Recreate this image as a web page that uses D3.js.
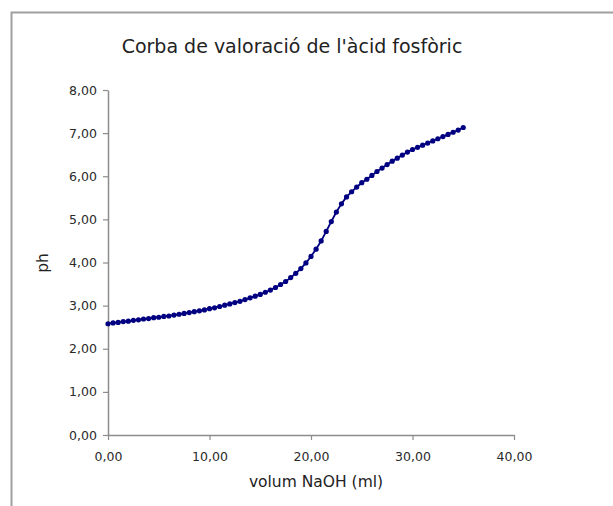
<!DOCTYPE html>
<html><head><meta charset="utf-8">
<script src="https://cdn.jsdelivr.net/npm/d3@7/dist/d3.min.js"></script>
<style>body{margin:0;background:#fff}svg{display:block}</style>
</head><body>
<script>
const volume = [0,0.5,1,1.5,2,2.5,3,3.5,4,4.5,5,5.5,6,6.5,7,7.5,8,8.5,9,9.5,10,10.5,11,11.5,12,12.5,13,13.5,14,14.5,15,15.5,16,16.5,17,17.5,18,18.5,19,19.5,20,20.5,21,21.5,22,22.5,23,23.5,24,24.5,25,25.5,26,26.5,27,27.5,28,28.5,29,29.5,30,30.5,31,31.5,32,32.5,33,33.5,34,34.5,35];
const ph = [2.58,2.60,2.61,2.63,2.64,2.66,2.67,2.69,2.70,2.72,2.73,2.75,2.76,2.78,2.80,2.82,2.84,2.86,2.88,2.90,2.93,2.95,2.98,3.01,3.04,3.07,3.10,3.14,3.18,3.22,3.26,3.31,3.36,3.42,3.49,3.56,3.65,3.75,3.86,3.99,4.14,4.31,4.50,4.72,4.95,5.17,5.36,5.52,5.64,5.75,5.85,5.93,6.02,6.11,6.19,6.27,6.35,6.42,6.49,6.56,6.62,6.67,6.72,6.77,6.82,6.87,6.92,6.97,7.02,7.07,7.13];
const xTicks = [0,10,20,30,40];
const yTicks = [0,1,2,3,4,5,6,7,8];
const title = "Corba de valoració de l'àcid fosfòric";
const xTitle = "volum NaOH (ml)";
const yTitle = "ph";

const W = 613, H = 506;
const svg = d3.select("body").append("svg").attr("width", W).attr("height", H);
const fmt = d => d.toFixed(2).replace(".", ",");

// outer frame
svg.append("path").attr("d", `M11.5,${H+5}V12.5H${W+5}`).attr("fill","none").attr("stroke","#a0a0a0").attr("stroke-width",2);

const x = d3.scaleLinear().domain([0,40]).range([108,514]);
const y = d3.scaleLinear().domain([0,8]).range([435,90]);

const font = "DejaVu Sans, Verdana, sans-serif";

const gx = svg.append("g").attr("transform","translate(0,435)")
  .call(d3.axisBottom(x).tickValues(xTicks).tickFormat(fmt).tickSize(5).tickSizeOuter(0));
const gy = svg.append("g").attr("transform","translate(108,0)")
  .call(d3.axisLeft(y).tickValues(yTicks).tickFormat(fmt).tickSize(5).tickSizeOuter(0));
[gx, gy].forEach(g => {
  g.select(".domain").attr("stroke","#8c8c8c").attr("stroke-width",1.5);
  g.selectAll(".tick line").attr("stroke","#8c8c8c").attr("stroke-width",1.2);
  g.selectAll(".tick text").attr("fill","#2a2a2a").style("font-family",font).style("font-size","12.5px");
});
gx.selectAll(".tick text").attr("dy","1.45em");
gy.selectAll(".tick text").attr("dx","-0.25em");

const pts = volume.map((v,i) => [v, ph[i]]);
svg.append("path").datum(pts)
  .attr("d", d3.line().x(d => x(d[0])).y(d => y(d[1])))
  .attr("fill","none").attr("stroke","#000080").attr("stroke-width",1.8);
svg.append("g").selectAll("circle").data(pts).join("circle")
  .attr("cx", d => x(d[0])).attr("cy", d => y(d[1])).attr("r", 2.6).attr("fill","#000080");

svg.append("text").attr("x", 292).attr("y", 53).attr("text-anchor","middle")
  .style("font-family",font).style("font-size","19px").attr("fill","#222").text(title);
svg.append("text").attr("x", 316).attr("y", 487).attr("text-anchor","middle")
  .style("font-family",font).style("font-size","15.5px").attr("fill","#222").text(xTitle);
svg.append("text").attr("transform","translate(48,263) rotate(-90)").attr("text-anchor","middle")
  .style("font-family",font).style("font-size","15.5px").attr("fill","#222").text(yTitle);
</script>
</body></html>
